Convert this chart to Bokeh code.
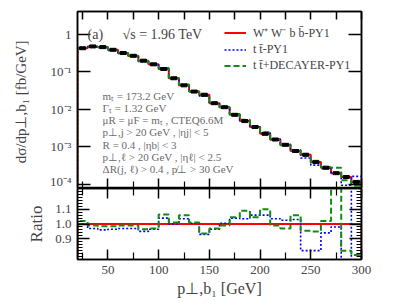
import numpy as np
from bokeh.plotting import figure
from bokeh.layouts import column
from bokeh.models import (Range1d, LinearAxis, LogAxis, FixedTicker, Label, Legend,
                          LegendItem, CustomJSTickFormatter)
from bokeh.embed import file_html
from bokeh.resources import INLINE

# ---- data ----
bin_lo = list(range(20, 300, 10))
bin_width = 10
wwbb = [0.43, 0.48, 0.46, 0.39, 0.32, 0.27, 0.20, 0.16, 0.12, 0.068,
        0.044, 0.030, 0.0247, 0.0147, 0.0115, 0.0072, 0.0049, 0.0034, 0.00224, 0.00158,
        0.00114, 0.00078, 0.00062, 0.00040, 0.00028, 0.00020, 0.000158, 0.000117]
ratio_tt = [1.00, 0.97, 0.96, 0.965, 0.97, 0.97, 0.95, 0.965, 1.04, 1.00,
            1.035, 1.005, 0.93, 0.965, 1.005, 1.04, 1.035, 1.06, 1.06, 1.035,
            1.025, 1.03, 0.82, 0.82, 0.94, 0.98, 0.60, 1.40]
ratio_dec = [1.02, 0.99, 0.985, 0.985, 0.99, 0.99, 0.965, 0.97, 1.065, 1.01,
             1.06, 1.01, 0.935, 0.97, 0.99, 1.045, 1.09, 1.045, 1.10, 0.99,
             0.97, 1.06, 0.955, 0.95, 1.02, 1.40, 0.82, 0.79]
ratio_ref = [1.0] * len(bin_lo)

x_major = [50, 100, 150, 200, 250, 300]
x_minor = [25, 75, 125, 175, 225, 275]
y_log_ticks = [1e-4, 1e-3, 1e-2, 1e-1, 1]
r_ticks = [0.9, 1.0, 1.1]

labels = ["W\u207a W\u207b b b\u0304-PY1", "t t\u0304-PY1", "t t\u0304+DECAYER-PY1"]
info_lines = ["m\u209c = 173.2 GeV",
              "\u0393\u209c = 1.32 GeV",
              "\u03bcR = \u03bcF = m\u209c , CTEQ6.6M",
              "p\u22a5,j > 20 GeV , |\u03b7j| < 5",
              "R = 0.4 , |\u03b7b| < 3",
              "p\u22a5,\u2113 > 20 GeV , |\u03b7\u2113| < 2.5",
              "\u0394R(j, \u2113) > 0.4 , p\u0338\u22a5 > 30 GeV"]

RED, BLUE, GREEN = "#ff0000", "#0000ff", "#138a13"
SERIF = "Liberation Serif"


def steps(lo, vals, w, base):
    xs, ys = [lo[0]], [base]
    for l, v in zip(lo, vals):
        xs += [l, l + w]
        ys += [v, v]
    xs.append(lo[-1] + w)
    ys.append(base)
    return xs, ys


wwbb_a = np.array(wwbb)
tt = list(wwbb_a * np.array(ratio_tt))
dec = list(wwbb_a * np.array(ratio_dec))
centers = [l + bin_width / 2 for l in bin_lo]

sup = CustomJSTickFormatter(code="""
const e = Math.round(Math.log10(tick));
if (e == 0) return '1';
const s = {'-':'\u207b','0':'\u2070','1':'\u00b9','2':'\u00b2','3':'\u00b3','4':'\u2074','5':'\u2075','6':'\u2076','7':'\u2077','8':'\u2078','9':'\u2079'};
return '10' + String(e).split('').map(c => s[c]).join('');
""")
one_dec = CustomJSTickFormatter(code="return tick.toFixed(1);")


def style_axis(ax, tin, minin, show_labels):
    ax.axis_line_width = 1.5
    ax.major_tick_line_width = 1.5
    ax.minor_tick_line_width = 1.2
    ax.major_tick_in = tin
    ax.major_tick_out = 0
    ax.minor_tick_in = minin
    ax.minor_tick_out = 0
    ax.major_label_text_font = SERIF
    ax.axis_label_text_font = SERIF
    ax.axis_label_text_font_style = "normal"
    if show_labels:
        ax.major_label_text_font_size = "13px"
        ax.major_label_standoff = 6
    else:
        ax.major_label_text_font_size = "1px"
        ax.major_label_text_color = None
        ax.major_label_standoff = 0


# ---- top panel ----
p1 = figure(width=405, height=188, y_axis_type="log",
            x_range=Range1d(20, 300), y_range=Range1d(7.8e-5, 4.1),
            output_backend="svg", toolbar_location=None,
            min_border_left=77, min_border_right=44, min_border_top=11, min_border_bottom=0)
p1.grid.visible = False
p1.outline_line_color = "black"
p1.outline_line_width = 1.5

p1.xaxis.ticker = FixedTicker(ticks=x_major, minor_ticks=x_minor)
p1.yaxis.ticker = FixedTicker(ticks=y_log_ticks, minor_ticks=[])
p1.yaxis.formatter = sup
style_axis(p1.xaxis[0], 10, 7, False)
style_axis(p1.yaxis[0], 13, 0, True)
p1.yaxis.axis_label = "d\u03c3/dp\u22a5,b\u2081  [fb/GeV]"
p1.yaxis.axis_label_text_font_size = "15px"
p1.yaxis.axis_label_standoff = 18

ax_top = LinearAxis(ticker=FixedTicker(ticks=x_minor + x_major, minor_ticks=[]))
style_axis(ax_top, 8, 0, False)
p1.add_layout(ax_top, "above")
ax_r = LogAxis(ticker=FixedTicker(ticks=y_log_ticks, minor_ticks=[]))
style_axis(ax_r, 13, 0, False)
p1.add_layout(ax_r, "right")

xs, ys = steps(bin_lo, wwbb, bin_width, 1e-7)
r1 = p1.line(xs, ys, color=RED, line_width=2)
xs, ys = steps(bin_lo, tt, bin_width, 1e-7)
r2 = p1.line(xs, ys, color=BLUE, line_width=1.6, line_dash="2 2")
xs, ys = steps(bin_lo, dec, bin_width, 1e-7)
r3 = p1.line(xs, ys, color=GREEN, line_width=2, line_dash="6 3")
p1.rect(x=centers, y=wwbb, width=6, height=3, height_units="screen", color="black")

legend = Legend(items=[LegendItem(label=labels[0], renderers=[r1]),
                       LegendItem(label=labels[1], renderers=[r2]),
                       LegendItem(label=labels[2], renderers=[r3])],
                location=(147, 115), orientation="vertical")
legend.border_line_color = None
legend.background_fill_alpha = 0
legend.padding = 0
legend.margin = 0
legend.spacing = 1
legend.glyph_width = 22
legend.glyph_height = 15
legend.label_height = 15
legend.label_standoff = 7
legend.label_text_font = SERIF
legend.label_text_font_size = "12px"
p1.add_layout(legend, "center")

p1.add_layout(Label(x=29.9, y=1.0, text="(a)", text_font=SERIF, text_font_size="14px",
                    text_baseline="middle", text_align="left"))
p1.add_layout(Label(x=64.4, y=1.0, text="\u221as = 1.96 TeV", text_font=SERIF, text_font_size="14px",
                    text_baseline="middle", text_align="left"))
info_y_px = [96, 108, 120, 132, 145, 157, 169]
for txt, ypx in zip(info_lines, info_y_px):
    yv = 10 ** ((34 - ypx) / 37.5)
    p1.add_layout(Label(x=44.7, y=yv, text=txt, text_font=SERIF, text_font_size="11px",
                        text_color="#6a6a6a", text_baseline="middle", text_align="left"))

# ---- ratio panel ----
p2 = figure(width=405, height=117, x_range=p1.x_range, y_range=Range1d(0.76, 1.24),
            output_backend="svg", toolbar_location=None,
            min_border_left=77, min_border_right=44, min_border_top=0, min_border_bottom=46)
p2.grid.visible = False
p2.outline_line_color = "black"
p2.outline_line_width = 1.5
p2.xaxis.ticker = FixedTicker(ticks=x_major, minor_ticks=x_minor)
r_minor = [round(0.76 + 0.02 * i, 2) for i in range(25)]
p2.yaxis.ticker = FixedTicker(ticks=r_ticks, minor_ticks=r_minor)
p2.yaxis.formatter = one_dec
style_axis(p2.xaxis[0], 10, 7, True)
style_axis(p2.yaxis[0], 12, 5, True)
p2.xaxis.axis_label = "p\u22a5,b\u2081 [GeV]"
p2.xaxis.axis_label_text_font_size = "16px"
p2.xaxis.axis_label_standoff = 3
p2.yaxis.axis_label = "Ratio"
p2.yaxis.axis_label_text_font_size = "17px"
p2.yaxis.axis_label_standoff = 6

ax_top2 = LinearAxis(ticker=FixedTicker(ticks=x_major, minor_ticks=x_minor))
style_axis(ax_top2, 10, 7, False)
p2.add_layout(ax_top2, "above")
ax_r2 = LinearAxis(ticker=FixedTicker(ticks=r_ticks, minor_ticks=r_minor))
style_axis(ax_r2, 12, 5, False)
p2.add_layout(ax_r2, "right")

xs, ys = steps(bin_lo, ratio_ref, bin_width, 0)
p2.line(xs, ys, color=RED, line_width=2)
xs, ys = steps(bin_lo, ratio_tt, bin_width, 0)
p2.line(xs, ys, color=BLUE, line_width=1.6, line_dash="2 2")
xs, ys = steps(bin_lo, ratio_dec, bin_width, 0)
p2.line(xs, ys, color=GREEN, line_width=2, line_dash="6 3")

layout = column(p1, p2, spacing=0)
open("out.html", "w").write(file_html(layout, INLINE))
